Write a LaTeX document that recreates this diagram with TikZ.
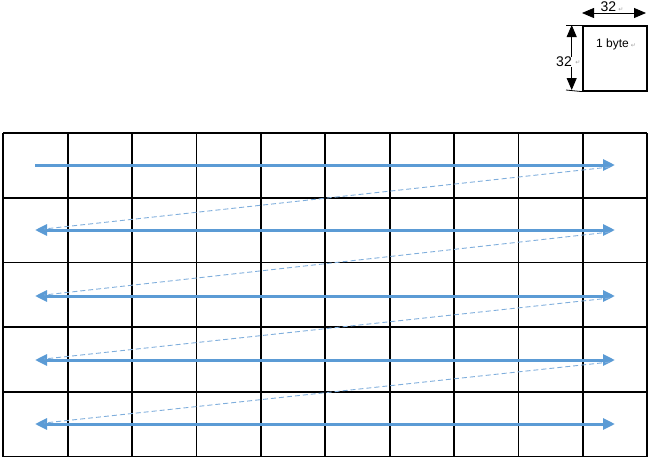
\documentclass[tikz,border=0pt]{standalone}
\usepackage{fontspec}
\setmainfont{Liberation Sans}
\newfontfamily\symfont{DejaVu Sans}
\usetikzlibrary{arrows.meta}
\definecolor{flowblue}{HTML}{5B9BD5}
\definecolor{jumpblue}{HTML}{7FAEDC}
\definecolor{markgray}{HTML}{A0A0A0}
\tikzset{
  gridline/.style={line width=1.8pt, black},
  rowarrow/.style={line width=3pt, flowblue},
  jumpline/.style={line width=0.9pt, jumpblue, dash pattern=on 5pt off 3pt},
  dimarrow/.style={line width=0.8pt, black, {Triangle[length=12pt,width=10pt]}-{Triangle[length=12pt,width=10pt]}},
  dimtext/.style={font=\fontsize{14}{16}\selectfont, inner sep=0pt},
}
\newcommand{\retmark}{{\symfont\fontsize{6}{7}\selectfont\color{markgray}↵}}
\begin{document}
\begin{tikzpicture}[x=1pt,y=-1pt]
\useasboundingbox (0,0) rectangle (656,461);
% grid
\foreach \i in {0,...,10}{
  \draw[gridline] ({3.3+64.4*\i},133) -- ({3.3+64.4*\i},456.5);
}
\foreach \j in {0,...,5}{
  \draw[gridline] (3.3,{133+64.7*\j}) -- (647.3,{133+64.7*\j});
}
% row end points
\foreach \n/\y in {1/165,2/230,3/296,4/360,5/424}{
  \coordinate (L\n) at (35,\y);
  \coordinate (R\n) at (615,\y);
  \coordinate (dl\n) at (44,{\y-1});
  \coordinate (dr\n) at (610,{\y+2});
}
\draw[rowarrow, -{Triangle[length=12pt,width=11pt]}] (L1) -- (R1);
\foreach \n in {2,...,5}{
  \draw[rowarrow, {Triangle[length=12pt,width=11pt]}-{Triangle[length=12pt,width=11pt]}] (L\n) -- (R\n);
}
\draw[jumpline] (dr1) -- (dl2);
\draw[jumpline] (dr2) -- (dl3);
\draw[jumpline] (dr3) -- (dl4);
\draw[jumpline] (dr4) -- (dl5);
% legend box
\node[draw, line width=1.6pt, minimum width=64pt, minimum height=65pt, inner sep=0pt, anchor=north west] (cell) at (582,25) {};
\node[font=\fontsize{12}{13}\selectfont, inner sep=0pt] (celltext) at (616,44) {1 byte\,\retmark};
% horizontal dimension
\coordinate (hl) at (582,13);
\coordinate (hr) at (646,13);
\draw[dimarrow] (hl) -- (hr);
\node[dimtext] (hdim) at (612,7) {32\,\retmark};
% vertical dimension
\coordinate (vt) at (571.7,25);
\coordinate (vb) at (571.7,90);
\draw[line width=0.8pt] (566,25) -- (cell.north west);
\draw[line width=0.8pt] (566,90) -- (cell.south west);
\draw[dimarrow] (vt) -- (vb);
\node[dimtext, fill=white, inner sep=0.5pt] (vdim) at (564,62) {32};
\node[inner sep=0pt] (vmark) at (578,63) {\retmark};
\end{tikzpicture}
\end{document}
